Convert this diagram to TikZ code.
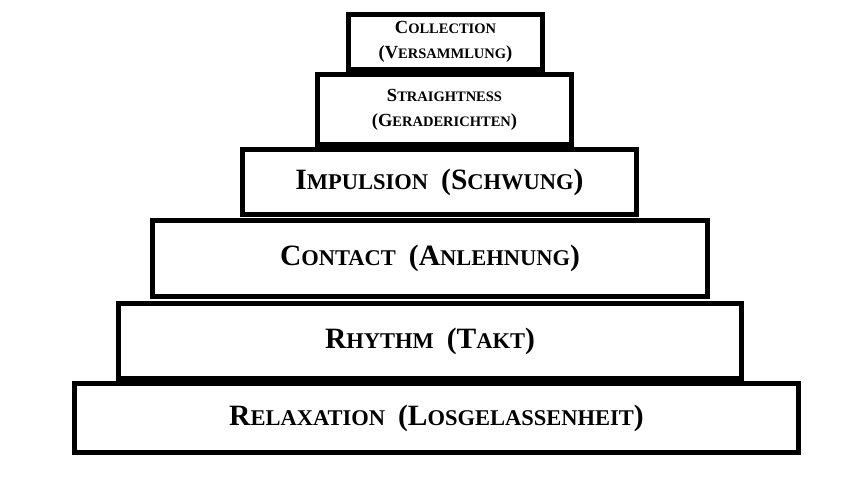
\documentclass[tikz,border=0pt]{standalone}
\usepackage{fontspec}
\setmainfont{Liberation Serif}
\newcommand{\bigA}[1]{{\fontsize{29.5}{32}\selectfont #1}}
\newcommand{\lowA}[1]{{\fontsize{22.5}{32}\selectfont #1}}
\newcommand{\bigB}[1]{{\fontsize{18.5}{26}\selectfont #1}}
\newcommand{\lowB}[1]{{\fontsize{14.5}{26}\selectfont #1}}
\newcommand{\gapA}{\hspace{13pt}}
\tikzset{
  tier/.style={draw=black,line width=4.5pt,fill=white,inner sep=0pt,align=center,font=\bfseries},
  smalltier/.style={tier,font=\bfseries\fontsize{14.5}{25}\selectfont},
}
\begin{document}
\begin{tikzpicture}[x=1pt,y=-1pt]
\useasboundingbox[fill=white] (0,0) rectangle (854,490);
\node[tier,minimum width=724pt,minimum height=69pt] (relax) at (436.5,418) {\bigA{R}\lowA{ELAXATION}\gapA\bigA{(L}\lowA{OSGELASSENHEIT}\bigA{)}};
\node[tier,minimum width=623pt,minimum height=75pt] (rhythm) at (430,341) {\bigA{R}\lowA{HYTHM}\gapA\bigA{(T}\lowA{AKT}\bigA{)}};
\node[tier,minimum width=555pt,minimum height=76pt] (contact) at (430,258.5) {\bigA{C}\lowA{ONTACT}\gapA\bigA{(A}\lowA{NLEHNUNG}\bigA{)}};
\node[tier,minimum width=394pt,minimum height=65pt] (impulsion) at (439.5,182) {\bigA{I}\lowA{MPULSION}\gapA\bigA{(S}\lowA{CHWUNG}\bigA{)}};
\node[smalltier,minimum width=254pt,minimum height=70pt] (straight) at (444.5,109.5) {\bigB{S}\lowB{TRAIGHTNESS}\\\bigB{(G}\lowB{ERADERICHTEN}\bigB{)}};
\node[smalltier,minimum width=194pt,minimum height=55pt] (collection) at (445.5,42) {\bigB{C}\lowB{OLLECTION}\\\bigB{(V}\lowB{ERSAMMLUNG}\bigB{)}};
\end{tikzpicture}
\end{document}
